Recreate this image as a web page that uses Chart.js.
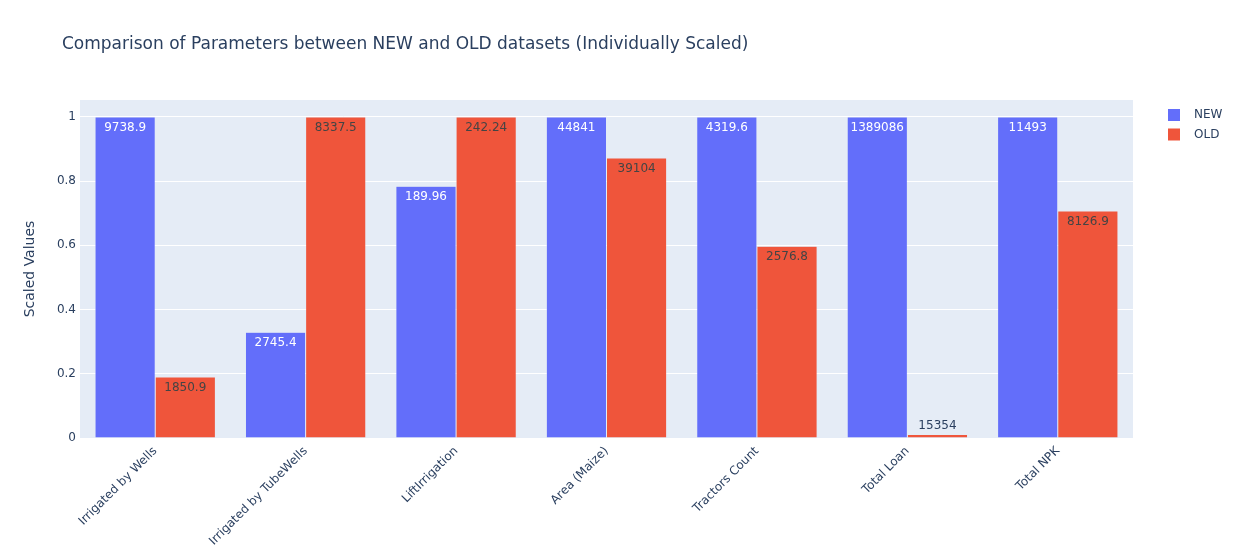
<!DOCTYPE html>
<html>
<head>
<meta charset="utf-8">
<script src="https://cdn.jsdelivr.net/npm/chart.js@4.4.0/dist/chart.umd.min.js"></script>
<style>
  html, body { margin: 0; padding: 0; background: #fff; }
  #wrap { width: 1240px; height: 560px; }
</style>
</head>
<body>
<div id="wrap"><canvas id="barChart" width="1240" height="560"></canvas></div>
<script>
var categories = ["Irrigated by Wells", "Irrigated by TubeWells", "LiftIrrigation", "Area (Maize)", "Tractors Count", "Total Loan", "Total NPK"];
var newScaled = [1, 0.329, 0.784, 1, 1, 1, 1];
var oldScaled = [0.19, 1, 1, 0.872, 0.597, 0.011, 0.707];
var newText = ["9738.9", "2745.4", "189.96", "44841", "4319.6", "1389086", "11493"];
var oldText = ["1850.9", "8337.5", "242.24", "39104", "2576.8", "15354", "8126.9"];
var yTicks = [0, 0.2, 0.4, 0.6, 0.8, 1];

var newColor = "#636efa";
var oldColor = "#EF553B";
var fontFamily = "'DejaVu Sans', Verdana, sans-serif";
var textColor = "#2a3f5f";

// plot background like plotly
var plotBg = {
  id: "plotBg",
  beforeDraw: function (chart) {
    var a = chart.chartArea, ctx = chart.ctx;
    ctx.save();
    ctx.fillStyle = "#E5ECF6";
    ctx.fillRect(a.left, a.top, a.right - a.left, a.bottom - a.top);
    ctx.restore();
  }
};

// title + legend drawn at plotly-like spots
var extras = {
  id: "extras",
  afterDraw: function (chart) {
    var ctx = chart.ctx;
    ctx.save();
    ctx.fillStyle = textColor;
    ctx.font = "17px " + fontFamily;
    ctx.textAlign = "left";
    ctx.textBaseline = "middle";
    ctx.fillText("Comparison of Parameters between NEW and OLD datasets (Individually Scaled)", 62, 45);

    ctx.font = "12px " + fontFamily;
    chart.data.datasets.forEach(function (ds, i) {
      var y = 115 + i * 19.5;
      ctx.fillStyle = ds.backgroundColor;
      ctx.fillRect(1168, y - 6, 12, 12);
      ctx.fillStyle = textColor;
      ctx.fillText(ds.label, 1194, y);
    });
    ctx.restore();
  }
};

// bar text, inside end or outside when too short
var barText = {
  id: "barText",
  afterDatasetsDraw: function (chart) {
    var ctx = chart.ctx;
    ctx.save();
    ctx.font = "12px " + fontFamily;
    ctx.textAlign = "center";
    ctx.textBaseline = "middle";
    chart.data.datasets.forEach(function (ds, i) {
      var meta = chart.getDatasetMeta(i);
      meta.data.forEach(function (bar, j) {
        var t = ds.texts[j];
        var h = bar.base - bar.y;
        if (h > 20) {
          ctx.fillStyle = ds.insideColor;
          ctx.fillText(t, bar.x, bar.y + 11);
        } else {
          ctx.fillStyle = textColor;
          ctx.fillText(t, bar.x, bar.y - 9);
        }
      });
    });
    ctx.restore();
  }
};

new Chart("barChart", {
  type: "bar",
  data: {
    labels: categories,
    datasets: [{
      label: "NEW",
      data: newScaled,
      texts: newText,
      insideColor: "#ffffff",
      backgroundColor: newColor,
      borderColor: "rgba(229,236,246,0.7)",
      borderWidth: 0.5,
      categoryPercentage: 0.8,
      barPercentage: 1.0
    }, {
      label: "OLD",
      data: oldScaled,
      texts: oldText,
      insideColor: "#444444",
      backgroundColor: oldColor,
      borderColor: "rgba(229,236,246,0.7)",
      borderWidth: 0.5,
      categoryPercentage: 0.8,
      barPercentage: 1.0
    }]
  },
  options: {
    responsive: false,
    animation: false,
    layout: { padding: { left: 0, right: 107, top: 100, bottom: 0 } },
    plugins: {
      legend: { display: false },
      title: { display: false },
      tooltip: { enabled: false }
    },
    scales: {
      x: {
        grid: { display: false, drawTicks: false },
        border: { display: false },
        ticks: {
          color: textColor,
          font: { family: fontFamily, size: 12 },
          maxRotation: 45,
          minRotation: 45,
          padding: 6,
          autoSkip: false
        },
        afterFit: function (scale) { scale.height = 122; }
      },
      y: {
        min: 0,
        max: 1.0526,
        afterBuildTicks: function (scale) {
          scale.ticks = yTicks.map(function (v) { return { value: v }; });
        },
        grid: { color: "#ffffff", lineWidth: 1, drawTicks: false },
        border: { display: false },
        ticks: {
          color: textColor,
          font: { family: fontFamily, size: 12 },
          padding: 4,
          callback: function (v) { return String(Math.round(v * 10) / 10); }
        },
        title: {
          display: true,
          text: "Scaled Values",
          color: textColor,
          font: { family: fontFamily, size: 14 },
          padding: { top: 22, bottom: 0 }
        },
        afterFit: function (scale) { scale.width = 80; }
      }
    }
  },
  plugins: [plotBg, barText, extras]
});
</script>
</body>
</html>
